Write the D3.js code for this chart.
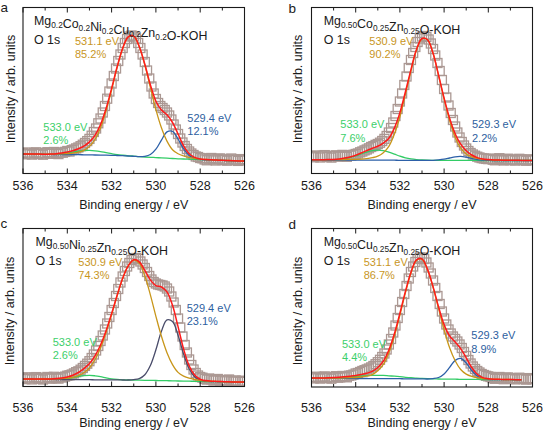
<!DOCTYPE html>
<html><head><meta charset="utf-8">
<script src="https://cdn.jsdelivr.net/npm/d3@7"></script>
<style>
body{margin:0;background:#fff;}
svg{display:block;font-family:"Liberation Sans",Arial,Helvetica,sans-serif;}
</style></head><body>
<svg id="chart" width="543" height="433"></svg>
<script>
// ---------------- DATA ----------------
const panelLetters = ["a", "b", "c", "d"];
const formulas = [
  [["Mg","0.2"],["Co","0.2"],["Ni","0.2"],["Cu","0.2"],["Zn","0.2"],["O-KOH",""]],
  [["Mg","0.50"],["Co","0.25"],["Zn","0.25"],["O-KOH",""]],
  [["Mg","0.50"],["Ni","0.25"],["Zn","0.25"],["O-KOH",""]],
  [["Mg","0.50"],["Cu","0.25"],["Zn","0.25"],["O-KOH",""]]
];
const coreLevel = "O 1s";
const xTicks = [536, 534, 532, 530, 528, 526];
const xMinorTicks = [535, 533, 531, 529, 527];
const xTitle = "Binding energy / eV";
const yTitle = "Intensity / arb. units";
// peak annotations: [main (gold), low-BE (blue), high-BE (green)]
const peakPositions = [
  ["531.1 eV", "529.4 eV", "533.0 eV"],
  ["530.9 eV", "529.3 eV", "533.0 eV"],
  ["530.9 eV", "529.4 eV", "533.0 eV"],
  ["531.1 eV", "529.3 eV", "533.0 eV"]
];
const peakShares = [
  ["85.2%", "12.1%", "2.6%"],
  ["90.2%", "2.2%", "7.6%"],
  ["74.3%", "23.1%", "2.6%"],
  ["86.7%", "8.9%", "4.4%"]
];

// measured spectra: binding energy 536.0 -> 526.0 eV, 0.1 eV step (101 points)
const dataStart = 536.0, dataStep = 0.1;
const dataA = [20.5,19.2,21.0,19.8,18.9,20.6,21.2,19.5,20.1,18.8,20.4,21.3,19.7,20.0,21.5,20.2,19.4,21.0,20.8,21.6,22.5,
 22.0,23.4,24.0,25.1,26.0,27.3,28.8,30.5,32.4,34.6,37.8,41.5,45.0,50.2,55.0,61.0,67.5,74.8,82.0,90.0,
 97.5,105.0,112.5,119.0,125.5,130.5,134.5,137.0,138.0,137.0,135.0,130.5,125.5,119.0,111.5,103.0,95.0,87.0,80.0,74.5,
 70.5,67.5,65.5,63.5,61.0,58.0,54.0,49.0,44.0,39.5,35.0,31.0,27.5,24.5,22.0,20.0,18.5,17.0,16.5,15.5,
 15.2,14.0,13.2,14.8,15.5,13.9,13.0,14.6,15.1,13.5,14.2,12.8,13.9,15.0,14.1,13.3,12.6,14.4,13.8,13.0];
const dataB = [17.5,16.2,18.0,17.1,16.0,17.8,18.4,16.6,17.2,15.9,17.6,18.2,16.8,17.3,18.6,17.4,16.7,18.3,17.9,18.8,19.5,
 20.0,21.2,22.0,23.1,24.0,25.2,26.5,27.4,28.6,29.5,30.8,32.5,34.6,37.5,41.0,45.5,51.0,57.5,64.5,72.0,
 80.0,88.5,97.0,105.5,113.5,120.5,126.5,131.5,135.0,137.0,137.5,136.5,134.0,130.0,124.5,118.0,110.5,102.5,93.5,84.5,
 76.0,68.0,60.5,53.5,47.0,41.0,36.0,31.5,28.0,25.0,22.5,20.5,19.0,17.8,16.8,16.0,15.4,15.0,14.6,14.4,
 14.9,13.8,13.2,14.5,15.3,13.7,13.0,14.3,14.8,13.4,14.0,12.9,13.8,14.7,14.0,13.2,12.8,14.2,13.6,13.1];
const dataC = [8.6,7.4,9.2,8.0,7.1,8.8,9.4,7.7,8.3,7.0,8.6,9.5,7.9,8.2,9.7,8.4,7.9,9.3,9.1,9.9,10.8,
 11.2,12.0,13.1,14.3,15.2,16.8,18.5,20.6,22.8,25.3,28.5,32.0,36.0,40.5,45.5,51.0,57.0,63.0,69.5,76.5,
 83.5,90.5,97.5,104.0,110.0,115.5,120.0,123.5,126.5,128.0,128.5,127.5,125.0,122.0,118.5,114.5,110.5,107.0,104.5,103.0,
 102.0,101.5,101.0,100.0,98.0,95.0,90.0,84.0,76.5,68.0,59.0,50.0,41.5,34.0,27.0,21.5,17.0,13.5,11.0,9.5,
 8.8,7.6,6.9,8.0,7.2,5.9,6.6,7.5,5.8,6.3,5.2,6.4,7.0,5.5,4.9,6.1,5.4,4.6,5.8,5.0];
const dataD = [9.8,8.6,10.3,9.2,8.4,10.0,10.6,9.0,9.6,8.3,9.9,10.8,9.3,9.7,11.0,10.2,9.7,11.3,11.6,12.4,13.5,
 14.0,15.0,16.0,16.8,17.6,18.5,19.6,21.0,22.8,24.8,27.2,30.0,33.5,37.5,42.5,48.0,54.5,61.5,69.0,77.0,
 85.0,93.0,101.0,108.5,115.0,120.5,125.0,128.0,129.5,129.5,128.0,124.5,119.5,113.5,106.5,99.0,91.0,83.0,75.5,68.5,
 62.5,57.5,53.5,50.5,48.0,45.5,42.5,39.0,35.0,31.0,27.0,23.5,20.5,18.0,16.0,14.5,13.0,12.0,11.2,10.6,
 10.0,8.9,8.2,9.4,10.0,8.5,7.8,9.2,9.6,8.2,8.8,7.6,8.5,9.3,8.6,7.9,7.4,8.9,8.3,7.7];

// fitted curves, sampled at these binding energies (eV)
const curveEnergy = [536,535.75,535.5,535.25,535,534.75,534.5,534.25,534,533.75,533.5,533.25,533,532.75,532.5,532.25,532,531.75,531.5,531.25,531,530.75,530.5,530.25,530,529.75,529.5,529.25,529,528.75,528.5,528.25,528,527.75,527.5,527.25,527,526.75,526.5,526.25,526];
// low-energy end of each fit range (eV)
const fitEnd = [526, 526, 526, 526.5];
// background
const bgA = [19.5,19.4,19.3,19.3,19.2,19.1,19.0,19.0,18.9,18.8,18.8,18.7,18.6,18.5,18.4,18.3,18.2,18.0,17.8,17.5,17.2,16.8,16.5,16.2,15.9,15.6,15.3,15.0,14.7,14.5,14.3,14.1,13.9,13.7,13.5,13.3,13.1,12.9,12.7,12.5,12.3];
const bgB = [13.6,13.6,13.6,13.5,13.5,13.5,13.5,13.5,13.4,13.4,13.4,13.3,13.3,13.3,13.3,13.3,13.2,13.2,13.2,13.2,13.2,13.2,13.2,13.2,13.1,13.1,13.1,13.1,13.1,13.1,13.1,13.0,13.0,13.0,13.0,13.0,13.0,13.0,13.0,13.0,13.0];
const bgC = [7.3,7.3,7.2,7.2,7.1,7.1,7.0,7.0,6.9,6.9,6.9,6.8,6.8,6.7,6.7,6.7,6.6,6.6,6.5,6.5,6.4,6.3,6.2,6.1,6.0,5.9,5.8,5.7,5.5,5.4,5.3,5.2,5.1,5.0,4.9,4.8,4.7,4.6,4.5,4.4,4.3];
const bgD = [8.8,8.8,8.7,8.7,8.7,8.6,8.6,8.6,8.5,8.5,8.5,8.4,8.4,8.4,8.3,8.3,8.3,8.2,8.2,8.1,8.1,8.0,8.0,7.9,7.9,7.8,7.8,7.7,7.7,7.6,7.6,7.5,7.5,7.4,7.4,7.3,7.3,7.2,7.2,7.1,7.0];
// main component (above background)
const mainA = [0.1,0.1,0.1,0.1,0.1,0.2,0.4,0.6,1.0,1.5,2.5,4.5,8.5,15.5,27.1,44.2,65.3,87.8,107,119,120,110,92,69.8,48,30.1,17.1,8.8,5.0,3.0,1.8,1.0,0.5,0.3,0.2,0.1,0.1,0.1,0.1,0.1,0.1];
const mainB = [0.2,0.2,0.2,0.3,0.3,0.4,0.5,0.6,0.8,1.0,1.5,2.5,4.0,7.5,13.9,26.0,43.6,66.0,89.3,110,121.5,120.5,107,84.7,61.1,39.7,23.1,12.2,6.5,3.5,2.0,1.2,0.8,0.5,0.4,0.3,0.2,0.2,0.1,0.1,0.1];
const mainC = [0.1,0.2,0.2,0.3,0.4,0.5,0.7,1.0,1.5,2.3,4.0,7.0,11.7,20.0,31.7,47.0,65.2,84.1,101.5,114.1,119.9,116.8,104.3,85.6,64.2,44.3,28.0,16.2,8.6,5.0,3.0,1.8,1.0,0.6,0.4,0.3,0.2,0.1,0.1,0.1,0.1];
const mainD = [0.1,0.1,0.2,0.2,0.3,0.4,0.5,0.7,1.0,1.5,2.3,4.0,7.8,14.2,25.8,42.4,63.5,85.9,105.5,118.4,119.6,109.3,91.8,70.5,49.3,31.4,18.4,9.8,5.2,3.0,1.7,1.0,0.6,0.4,0.3,0.2,0.2,0.1,0.1,0.1,0.1];
// low binding energy component
const lowA = [0,0,0,0,0,0,0,0,0,0,0,0,0,0,0,0,0,0,0,0,0,0,0.7,2.8,8.4,17.8,26.3,27.2,19.8,10.1,3.7,1.0,0.2,0,0,0,0,0,0,0,0];
const lowB = [0,0,0,0,0,0,0,0,0,0,0,0,0,0,0,0,0,0,0,0,0,0,0,0.4,1.2,2.4,3.6,4.0,3.2,1.9,0.8,0.3,0.1,0,0,0,0,0,0,0,0];
const lowC = [0,0,0,0,0,0,0,0,0,0,0,0,0,0,0,0,0,0,0,0,0.5,1.6,5.6,14.9,30.7,49.3,60.8,59.3,45.8,27.1,12.5,4.5,1.2,0.3,0,0,0,0,0,0,0];
const lowD = [0,0,0,0,0,0,0,0,0,0,0,0,0,0,0,0,0,0,0,0,0,0,0.4,1.6,5.2,11.8,18.8,20.9,16.3,8.9,3.4,0.9,0.2,0,0,0,0,0,0,0,0];
// high binding energy component
const highA = [0,0,0,0,0,0.2,0.45,0.9,1.6,2.5,3.5,4.2,4.5,4.2,3.5,2.5,1.6,0.9,0.45,0.2,0.1,0,0,0,0,0,0,0,0,0,0,0,0,0,0,0,0,0,0,0,0];
const highB = [0,0,0,0.1,0.3,0.7,1.4,2.5,4.1,6.1,8.0,9.5,10,9.5,8.0,6.1,4.1,2.5,1.4,0.7,0.3,0.1,0,0,0,0,0,0,0,0,0,0,0,0,0,0,0,0,0,0,0];
const highC = [0,0,0,0,0,0,0.2,0.5,1.1,2.0,3.1,4.0,4.4,4.0,3.1,2.0,1.1,0.5,0.2,0,0,0,0,0,0,0,0,0,0,0,0,0,0,0,0,0,0,0,0,0,0];
const highD = [0,0.1,0.15,0.3,0.45,0.7,1.1,1.5,2.0,2.5,2.9,3.2,3.3,3.2,2.9,2.5,2.0,1.5,1.1,0.7,0.45,0.3,0.15,0.1,0,0,0,0,0,0,0,0,0,0,0,0,0,0,0,0,0];
// y range (arb. units) shown in each panel
const yMax = [166, 166, 158, 158.5];

const spectra = [dataA, dataB, dataC, dataD];
const backgrounds = [bgA, bgB, bgC, bgD];
const mains = [mainA, mainB, mainC, mainD];
const lows = [lowA, lowB, lowC, lowD];
const highs = [highA, highB, highC, highD];

// ---------------- LAYOUT / STYLE ----------------
const layout = [
  {x0:23,   x1:244.5, y0:7.5,   y1:173.5, tickDy:16,   titleDy:35.5, yLabX:14.5,  yLabY:89,  letter:[0.5,11.7],
   formula:[34,24.5], core:[34,44], ann:[[75,44.5],[187.3,121.7],[43.3,130.7]]},
  {x0:311.5,x1:532.5, y0:7.5,   y1:173.5, tickDy:16,   titleDy:35.5, yLabX:301.5, yLabY:89,  letter:[288.5,12.7],
   formula:[323.7,24.5], core:[323.7,44], ann:[[369.3,44.5],[472,128.3],[340.3,128.3]]},
  {x0:23,   x1:244.5, y0:228.5, y1:386.5, tickDy:25.5, titleDy:40.5, yLabX:14,    yLabY:311, letter:[0.5,227.7],
   formula:[35.5,246], core:[35.5,265.3], ann:[[78.3,265.8],[186.7,312],[52.7,346]]},
  {x0:311.5,x1:532.5, y0:228.5, y1:387,   tickDy:25,   titleDy:40,   yLabX:301.5, yLabY:311, letter:[288.5,228.7],
   formula:[323.7,245.5], core:[323.7,264.5], ann:[[363.7,265.8],[471.3,339.3],[342,347.7]]}
];
const colors = {
  square:"#ab9893", total:"#ff1a1a", main:"#c8961a", low:"#2d60a8", lowC:"#4a4d6b", high:"#33cc66",
  mainText:"#c8961e", lowText:"#2d60a0", highText:"#3ccf6a", ink:"#1a1a1a"
};
const SQ = 9;

const svg = d3.select("#chart");

panelLetters.forEach((letter, p) => {
  const L = layout[p];
  const x = d3.scaleLinear().domain([536, 526]).range([L.x0, L.x1]);
  const y = d3.scaleLinear().domain([0, yMax[p]]).range([L.y1, L.y0]);
  const g = svg.append("g");

  const clipId = "clip" + p;
  svg.append("clipPath").attr("id", clipId).append("rect")
    .attr("x", L.x0).attr("y", L.y0).attr("width", L.x1 - L.x0).attr("height", L.y1 - L.y0);
  const plot = g.append("g").attr("clip-path", `url(#${clipId})`);

  // measured points (open squares)
  const pts = spectra[p].map((v, j) => [dataStart - j * dataStep, v]);
  plot.append("g").selectAll("rect").data(pts).join("rect")
    .attr("x", d => x(d[0]) - SQ / 2).attr("y", d => y(d[1]) - SQ / 2)
    .attr("width", SQ).attr("height", SQ)
    .attr("fill", "none").attr("stroke", colors.square).attr("stroke-width", 1.3);

  const bg = backgrounds[p];
  const inFit = e => e >= fitEnd[p] - 1e-9;
  const line = d3.line().x(d => x(d[0])).y(d => y(d[1])).curve(d3.curveCatmullRom.alpha(0.5));
  const comp = arr => curveEnergy.map((e, i) => [e, bg[i] + arr[i]]).filter(d => inFit(d[0]));
  const total = curveEnergy.map((e, i) => [e, bg[i] + mains[p][i] + lows[p][i] + highs[p][i]]).filter(d => inFit(d[0]));

  plot.append("path").attr("d", line(comp(highs[p]))).attr("fill", "none")
    .attr("stroke", colors.high).attr("stroke-width", 1.3);
  plot.append("path").attr("d", line(comp(lows[p]))).attr("fill", "none")
    .attr("stroke", p === 2 ? colors.lowC : colors.low).attr("stroke-width", 1.3);
  plot.append("path").attr("d", line(comp(mains[p]))).attr("fill", "none")
    .attr("stroke", colors.main).attr("stroke-width", 1.3);
  plot.append("path").attr("d", line(total)).attr("fill", "none")
    .attr("stroke", colors.total).attr("stroke-width", 1.5);

  // frame
  g.append("rect").attr("x", L.x0).attr("y", L.y0)
    .attr("width", L.x1 - L.x0).attr("height", L.y1 - L.y0)
    .attr("fill", "none").attr("stroke", colors.ink).attr("stroke-width", 1.1);

  // ticks (inward, bottom and top)
  const tickG = g.append("g").attr("stroke", colors.ink).attr("stroke-width", 1);
  xTicks.forEach(t => {
    tickG.append("line").attr("x1", x(t)).attr("x2", x(t)).attr("y1", L.y1).attr("y2", L.y1 - 5);
    tickG.append("line").attr("x1", x(t)).attr("x2", x(t)).attr("y1", L.y0).attr("y2", L.y0 + 5);
  });
  xMinorTicks.forEach(t => {
    tickG.append("line").attr("x1", x(t)).attr("x2", x(t)).attr("y1", L.y1).attr("y2", L.y1 - 3);
    tickG.append("line").attr("x1", x(t)).attr("x2", x(t)).attr("y1", L.y0).attr("y2", L.y0 + 3);
  });
  g.append("g").selectAll("text").data(xTicks).join("text")
    .attr("x", d => x(d)).attr("y", L.y1 + L.tickDy)
    .attr("text-anchor", "middle").attr("font-size", 12.5).attr("fill", colors.ink)
    .text(d => d);

  // axis titles
  g.append("text").attr("x", (L.x0 + L.x1) / 2).attr("y", L.y1 + L.titleDy)
    .attr("text-anchor", "middle").attr("font-size", 12.5).attr("fill", colors.ink).text(xTitle);
  g.append("text").attr("transform", `translate(${L.yLabX},${L.yLabY}) rotate(-90)`)
    .attr("text-anchor", "middle").attr("font-size", 12.5).attr("fill", colors.ink).text(yTitle);

  // panel letter
  g.append("text").attr("x", L.letter[0]).attr("y", L.letter[1])
    .attr("font-size", 13.5).attr("fill", colors.ink).text(letter);

  // formula with subscripts
  const ft = g.append("text").attr("x", L.formula[0]).attr("y", L.formula[1])
    .attr("font-size", 12.4).attr("fill", colors.ink);
  formulas[p].forEach(([el, sub]) => {
    ft.append("tspan").text(el);
    if (sub) {
      ft.append("tspan").attr("font-size", 8.3).attr("dy", 3).text(sub);
      ft.append("tspan").attr("dy", -3).text("");
    }
  });
  g.append("text").attr("x", L.core[0]).attr("y", L.core[1])
    .attr("font-size", 12.4).attr("fill", colors.ink).text(coreLevel);

  // peak annotations
  const annColors = [colors.mainText, colors.lowText, colors.highText];
  L.ann.forEach((pos, k) => {
    g.append("text").attr("x", pos[0]).attr("y", pos[1]).attr("font-size", 11)
      .attr("fill", annColors[k]).text(peakPositions[p][k]);
    g.append("text").attr("x", pos[0]).attr("y", pos[1] + 13.3).attr("font-size", 11)
      .attr("fill", annColors[k]).text(peakShares[p][k]);
  });
});
</script>
</body></html>
